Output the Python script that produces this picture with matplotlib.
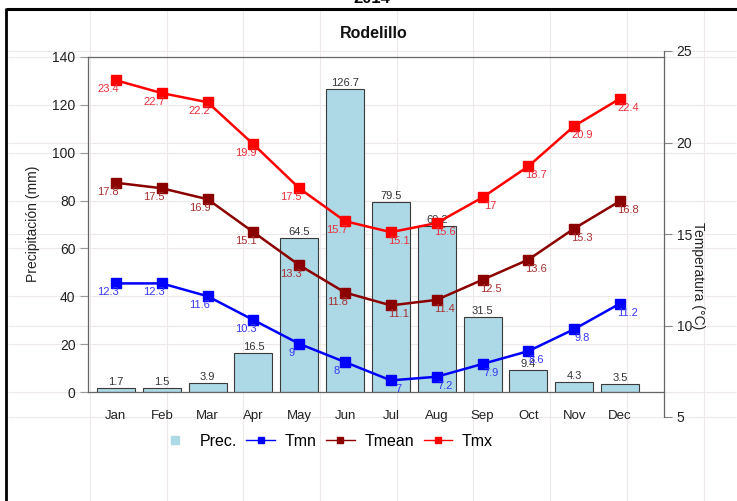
import matplotlib
matplotlib.use('Agg')
import matplotlib.pyplot as plt
from matplotlib.lines import Line2D
from matplotlib.transforms import blended_transform_factory
import numpy as np

plt.rcParams['font.family'] = ['Liberation Sans', 'DejaVu Sans']

# Monthly climate normals, Rodelillo station
months = ['Jan', 'Feb', 'Mar', 'Apr', 'May', 'Jun',
          'Jul', 'Aug', 'Sep', 'Oct', 'Nov', 'Dec']
prec = [1.7, 1.5, 3.9, 16.5, 64.5, 126.7, 79.5, 69.2, 31.5, 9.4, 4.3, 3.5]
tmn = [12.3, 12.3, 11.6, 10.3, 9, 8, 7, 7.2, 7.9, 8.6, 9.8, 11.2]
tmean = [17.8, 17.5, 16.9, 15.1, 13.3, 11.8, 11.1, 11.4, 12.5, 13.6, 15.3, 16.8]
tmx = [23.4, 22.7, 22.2, 19.9, 17.5, 15.7, 15.1, 15.6, 17, 18.7, 20.9, 22.4]
prec_ticks = [0, 20, 40, 60, 80, 100, 120, 140]
temp_ticks = [5, 10, 15, 20, 25]

W, H = 737, 501

def fx(px):
    return px / W

def fy(py):
    return 1 - py / H

fig = plt.figure(figsize=(W / 100, H / 100), dpi=100)
fig.patch.set_facecolor('white')

# page background in pixel units: faint grid and the black frame edges
grid_col = '#efe8e8'
bg = fig.add_axes([0, 0, 1, 1], zorder=-1)
bg.set_xlim(0, W)
bg.set_ylim(H, 0)
bg.axis('off')
for gx in np.arange(90, 710, 76.7):
    bg.plot([gx, gx], [10, H], color=grid_col, lw=0.8)
bg.plot([6, 6], [8, H], color='black', lw=2, solid_capstyle='butt')
bg.plot([6, W], [8.5, 8.5], color='black', lw=2.2, solid_capstyle='butt')

x = np.arange(len(months))
spine_col = '#666666'

# precipitation axes
ax = fig.add_axes([fx(88), fy(392), 576 / W, 335 / H])
ax.set_facecolor('none')
ax.set_xlim(-0.61, 11.96)
ax.set_ylim(0, 140)
ax.bar(x, prec, width=0.83, color='#ADD8E6', edgecolor='#3a3a3a', lw=0.8, zorder=2)
for i, v in enumerate(prec):
    ax.text(i, v + 0.4, f'{v:g}', ha='center', va='bottom', fontsize=8, color='#333333', zorder=3)

ax.set_yticks(prec_ticks)
ax.set_xticks(x, months)
ax.tick_params(axis='y', length=6, width=0.8, color='#999999', labelsize=10, pad=3,
               labelcolor='#222222')
ax.tick_params(axis='x', length=0, labelsize=9.5, pad=13, labelcolor='#222222')
ax.spines['right'].set_visible(False)
for s in ['left', 'top', 'bottom']:
    ax.spines[s].set_color(spine_col)
    ax.spines[s].set_linewidth(0.9)

# temperature axes, taller than the precipitation box
ax2 = fig.add_axes([fx(88), fy(417), 576 / W, 366 / H])
ax2.set_facecolor('none')
ax2.patch.set_visible(False)
ax2.set_xlim(-0.61, 11.96)
ax2.set_ylim(5, 25)
for s in ['left', 'top', 'bottom']:
    ax2.spines[s].set_visible(False)
ax2.spines['right'].set_color(spine_col)
ax2.spines['right'].set_linewidth(0.9)
ax2.set_xticks([])
ax2.yaxis.tick_right()
ax2.set_yticks(temp_ticks)
ax2.tick_params(axis='y', length=6, width=0.8, color='#888888', labelsize=10, pad=3,
                labelcolor='#222222')

# horizontal grid for both scales runs across the whole page, under the bars
ax.hlines(prec_ticks, fx(8), fx(736), colors=grid_col, lw=0.8, clip_on=False, zorder=0,
          transform=blended_transform_factory(fig.transFigure, ax.transData))
ax.hlines(temp_ticks, fx(8), fx(736), colors=grid_col, lw=0.8, clip_on=False, zorder=0,
          transform=blended_transform_factory(fig.transFigure, ax2.transData))

series = [
    (tmn, '#0000FF', '#3838F0', 'Tmn'),
    (tmean, '#8B0000', '#A63030', 'Tmean'),
    (tmx, '#FF0000', '#E8303C', 'Tmx'),
]
for vals, col, lab_col, name in series:
    ax2.plot(x, vals, color=col, lw=1.8, marker='s', ms=6.5, zorder=4, clip_on=False)
    for i, v in enumerate(vals):
        dx = -8 if i < 6 else 8
        ax2.annotate(f'{v:g}', (i, v), xytext=(dx, -9), textcoords='offset pixels',
                     ha='center', va='center', fontsize=8, color=lab_col, zorder=5)

# titles and axis labels
fig.text(fx(374), fy(33), 'Rodelillo', ha='center', va='center', fontsize=11.5,
         fontweight='bold', color='#111111')
fig.text(fx(372), fy(3), '2014', ha='center', va='baseline', fontsize=12,
         fontweight='bold', color='black')
fig.text(fx(33), fy(224), 'Precipitación (mm)', rotation=90, ha='center', va='center',
         fontsize=10, color='#222222')
fig.text(fx(698), fy(276), 'Temperatura (°C)', rotation=270, ha='center', va='center',
         fontsize=10, color='#222222')

# legend
handles = [
    Line2D([], [], color='#ADD8E6', marker='s', ls='none', ms=6),
    Line2D([], [], color='#0000FF', marker='s', lw=1, ms=5),
    Line2D([], [], color='#8B0000', marker='s', lw=1, ms=5),
    Line2D([], [], color='#FF0000', marker='s', lw=1, ms=5),
]
fig.legend(handles, ['Prec.', 'Tmn', 'Tmean', 'Tmx'], loc='center',
           bbox_to_anchor=(fx(327), fy(441)), ncol=4, frameon=False, fontsize=11.5,
           handlelength=1.8, handletextpad=0.6, columnspacing=0.6)

fig.savefig('out.png', dpi=100)
